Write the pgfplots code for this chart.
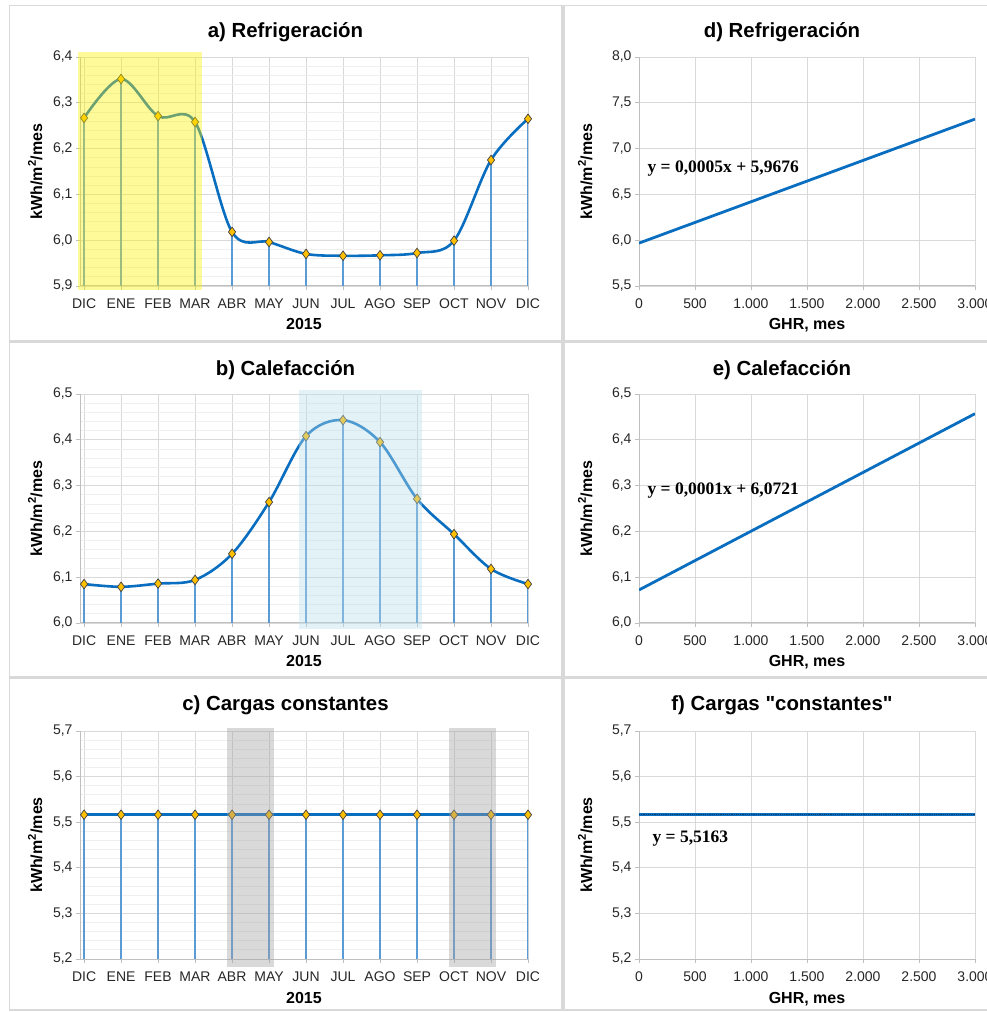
\documentclass[border=0pt]{standalone}
\usepackage{fontspec}
\setmainfont{Liberation Sans}
\newfontfamily\eqfont{Liberation Serif}
\newfontfamily\qfont{Liberation Sans}[Ligatures=ResetAll]
\usepackage{pgfplots}
\pgfplotsset{compat=1.18}
\definecolor{lineblue}{HTML}{0A6EC0}
\definecolor{dropblue}{HTML}{5B9BD5}
\definecolor{markfill}{HTML}{FFC000}
\definecolor{markdraw}{HTML}{404040}
\definecolor{gridmaj}{HTML}{D9D9D9}
\definecolor{gridmin}{HTML}{EFEFEF}
\definecolor{axisgray}{HTML}{BFBFBF}
\definecolor{framegray}{HTML}{D9D9D9}
\definecolor{shblue}{HTML}{B7DEE8}

\tikzset{eq/.style={anchor=base west, font=\eqfont\bfseries\fontsize{17.5}{19}\selectfont}}
\pgfplotsset{
  panel/.style={
    scale only axis, anchor=south west,
    axis lines=left, axis line style={draw=axisgray,line width=1pt,-},
    tick align=outside, major tick length=4pt, minor tick length=0pt,
    tick style={draw=axisgray,line width=0.8pt},
    major grid style={draw=gridmaj,line width=0.8pt},
    minor grid style={draw=gridmin,line width=0.8pt},
    xmajorgrids, ymajorgrids,
    scaled x ticks=false, scaled y ticks=false,
    tick label style={font=\fontsize{14}{16}\selectfont, color=black!85},
    yticklabel style={/pgf/number format/.cd, fixed, fixed zerofill, precision=1, use comma, assume math mode=true},
    xticklabel style={anchor=base, yshift=-19pt},
    label style={font=\bfseries\fontsize{16}{18}\selectfont},
    xlabel style={at={(axis description cs:0.5,0)}, anchor=base, yshift=-44pt},
    clip mode=individual,
  },
  monthly/.style={
    panel, width=448pt,
    xmin=-0.11, xmax=12,
    xtick={0,...,12},
    xticklabels={DIC,ENE,FEB,MAR,ABR,MAY,JUN,JUL,AGO,SEP,OCT,NOV,DIC},
    yminorgrids, minor y tick num=4,
    xlabel={2015}, ylabel={kWh/m\textsuperscript{2}/mes},
    ylabel style={at={(axis description cs:-0.1,0.5)}, anchor=center},
  },
  ghr/.style={
    panel, width=336pt,
    xmin=0, xmax=3000, xtick={0,500,...,3000},
    xticklabel style={/pgf/number format/.cd, 1000 sep={.}, assume math mode=true},
    xlabel={GHR, mes}, ylabel={kWh/m\textsuperscript{2}/mes},
    ylabel style={at={(axis description cs:-0.16,0.5)}, anchor=center},
  },
  drop/.style={ycomb, draw=dropblue, line width=1.2pt, mark=none, forget plot},
  curve/.style={smooth, tension=0.55, draw=lineblue, line width=2.6pt,
    mark=diamond*, mark size=4.8pt,
    mark options={fill=markfill, draw=markdraw, line width=0.7pt, solid}},
  fitline/.style={draw=lineblue, line width=2.8pt, mark=none},
}

\begin{document}
\begin{tikzpicture}
\useasboundingbox (0pt,0pt) rectangle (986pt,1012pt);
% chart frames
\begin{scope}[framegray, line width=1.2pt]
\draw (9.5pt,671pt) rectangle (562pt,1006.5pt);
\draw (9.5pt,335pt) rectangle (562pt,670pt);
\draw (9.5pt,2pt) rectangle (562pt,334pt);
\draw (564pt,671pt) rectangle (1005pt,1006.5pt);
\draw (564pt,335pt) rectangle (1005pt,670pt);
\draw (564pt,2pt) rectangle (1005pt,334pt);
\end{scope}

% titles
\begin{scope}[font=\bfseries\fontsize{20.4}{22}\selectfont]
\node[anchor=base] at (285.5pt,974pt) {a) Refrigeración};
\node[anchor=base] at (285.5pt,636pt) {b) Calefacción};
\node[anchor=base] at (285.5pt,301pt) {c) Cargas constantes};
\node[anchor=base] at (782pt,974pt) {d) Refrigeración};
\node[anchor=base] at (782pt,636pt) {e) Calefacción};
\node[anchor=base, font=\qfont\bfseries\fontsize{20.4}{22}\selectfont] at (782pt,301pt) {f) Cargas "constantes"};
\end{scope}

% a) Refrigeracion, monthly
\begin{axis}[monthly, at={(80pt,726pt)}, height=229pt, ymin=5.9, ymax=6.4, ytick={5.9,6.0,...,6.41}]
\addplot[drop] coordinates {(0,6.267) (1,6.352) (2,6.271) (3,6.258) (4,6.018) (5,5.996) (6,5.970) (7,5.966) (8,5.967) (9,5.972) (10,5.999) (11,6.175) (12,6.265)};
\addplot[curve] coordinates {(0,6.267) (1,6.352) (2,6.271) (3,6.258) (4,6.018) (5,5.996) (6,5.970) (7,5.966) (8,5.967) (9,5.972) (10,5.999) (11,6.175) (12,6.265)};
\fill[yellow, opacity=0.4] (axis cs:-0.16,5.891) rectangle (axis cs:3.19,6.411);
\end{axis}

% b) Calefaccion, monthly
\begin{axis}[monthly, at={(80pt,389pt)}, height=229pt, ymin=6.0, ymax=6.5, ytick={6.0,6.1,...,6.51}]
\addplot[drop] coordinates {(0,6.085) (1,6.079) (2,6.086) (3,6.094) (4,6.151) (5,6.264) (6,6.408) (7,6.443) (8,6.395) (9,6.271) (10,6.194) (11,6.118) (12,6.085)};
\addplot[curve] coordinates {(0,6.085) (1,6.079) (2,6.086) (3,6.094) (4,6.151) (5,6.264) (6,6.408) (7,6.443) (8,6.395) (9,6.271) (10,6.194) (11,6.118) (12,6.085)};
\fill[shblue, opacity=0.4] (axis cs:5.81,5.987) rectangle (axis cs:9.14,6.509);
\end{axis}

% c) Cargas constantes, monthly
\begin{axis}[monthly, at={(80pt,53pt)}, height=228pt, ymin=5.2, ymax=5.7, ytick={5.2,5.3,...,5.71}]
\addplot[drop] coordinates {(0,5.5163) (1,5.5163) (2,5.5163) (3,5.5163) (4,5.5163) (5,5.5163) (6,5.5163) (7,5.5163) (8,5.5163) (9,5.5163) (10,5.5163) (11,5.5163) (12,5.5163)};
\addplot[curve] coordinates {(0,5.5163) (1,5.5163) (2,5.5163) (3,5.5163) (4,5.5163) (5,5.5163) (6,5.5163) (7,5.5163) (8,5.5163) (9,5.5163) (10,5.5163) (11,5.5163) (12,5.5163)};
\fill[black!37, opacity=0.4] (axis cs:3.86,5.183) rectangle (axis cs:5.14,5.707);
\fill[black!37, opacity=0.4] (axis cs:9.86,5.183) rectangle (axis cs:11.14,5.707);
\end{axis}

% d) Refrigeracion vs GHR
\begin{axis}[ghr, at={(639pt,726pt)}, height=229pt, ymin=5.5, ymax=8.0, ytick={5.5,6.0,...,8.01}]
\addplot[fitline] coordinates {(0,5.968) (3000,7.322)};
\node[eq] at (rel axis cs:0.015,0.495) {y = 0,0005x + 5,9676};
\end{axis}

% e) Calefaccion vs GHR
\begin{axis}[ghr, at={(639pt,389pt)}, height=229pt, ymin=6.0, ymax=6.5, ytick={6.0,6.1,...,6.51}]
\addplot[fitline] coordinates {(0,6.0721) (3000,6.457)};
\node[eq] at (rel axis cs:0.015,0.56) {y = 0,0001x + 6,0721};
\end{axis}

% f) Cargas constantes vs GHR
\begin{axis}[ghr, at={(639pt,53pt)}, height=228pt, ymin=5.2, ymax=5.7, ytick={5.2,5.3,...,5.71}]
\addplot[fitline] coordinates {(0,5.5163) (3000,5.5163)};
\addplot[draw=lineblue!55!black, densely dotted, line width=1.2pt, mark=none] coordinates {(0,5.5163) (3000,5.5163)};
\node[eq] at (rel axis cs:0.03,0.51) {y = 5,5163};
\end{axis}
\end{tikzpicture}
\end{document}
